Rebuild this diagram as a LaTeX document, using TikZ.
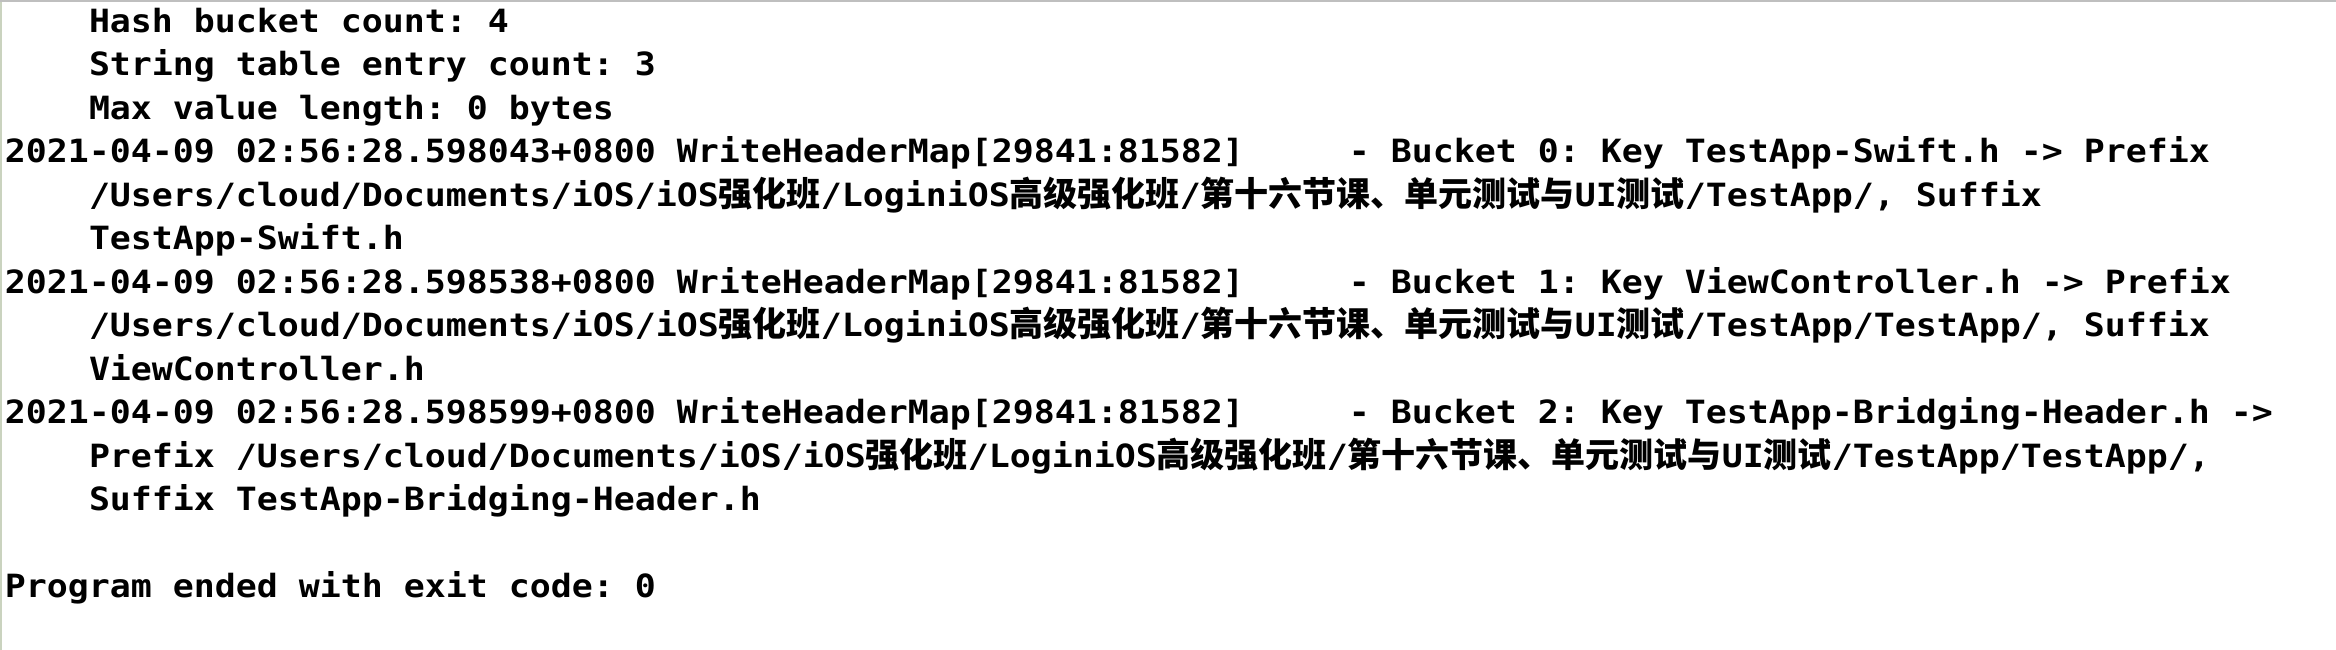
\documentclass[tikz,border=0pt]{standalone}
\usepackage{fontspec}
\newfontfamily\monof[FakeStretch=1.09]{DejaVu Sans Mono}
\newfontfamily\cjkf[Scale=1.0625]{Noto Sans CJK SC}
\newcommand\zh[1]{{\cjkf\bfseries #1}}
\definecolor{topbar}{HTML}{BFBFBF}
\definecolor{leftbar}{HTML}{CAD3BF}
\tikzset{
  ln/.style={anchor=base west, inner sep=0pt, outer sep=0pt, text=black,
    font={\monof\fontsize{32pt}{43pt}\selectfont\bfseries\frenchspacing}},
}
\begin{document}
\begin{tikzpicture}[x=1pt,y=-1pt]
\useasboundingbox (0,0) rectangle (2336,650);
\fill[white] (0,0) rectangle (2336,650);
\fill[topbar] (0,0) rectangle (2336,2);
\fill[leftbar] (0,2) rectangle (2.3,650);
\node[ln] (l1) at (89,32.5) {Hash bucket count: 4};
\node[ln] (l2) at (89,75.95) {String table entry count: 3};
\node[ln] (l3) at (89,119.4) {Max value length: 0 bytes};
\node[ln] (l4) at (5,162.85) {2021-04-09 02:56:28.598043+0800 WriteHeaderMap[29841:81582]~~~~~- Bucket 0: Key TestApp-Swift.h -> Prefix};
\node[ln] (l5) at (89,206.3) {/Users/cloud/Documents/iOS/iOS\zh{强化班}/LoginiOS\zh{高级强化班}/\zh{第十六节课、单元测试与}UI\zh{测试}/TestApp/, Suffix};
\node[ln] (l6) at (89,249.75) {TestApp-Swift.h};
\node[ln] (l7) at (5,293.2) {2021-04-09 02:56:28.598538+0800 WriteHeaderMap[29841:81582]~~~~~- Bucket 1: Key ViewController.h -> Prefix};
\node[ln] (l8) at (89,336.65) {/Users/cloud/Documents/iOS/iOS\zh{强化班}/LoginiOS\zh{高级强化班}/\zh{第十六节课、单元测试与}UI\zh{测试}/TestApp/TestApp/, Suffix};
\node[ln] (l9) at (89,380.1) {ViewController.h};
\node[ln] (l10) at (5,423.55) {2021-04-09 02:56:28.598599+0800 WriteHeaderMap[29841:81582]~~~~~- Bucket 2: Key TestApp-Bridging-Header.h ->};
\node[ln] (l11) at (89,467.0) {Prefix /Users/cloud/Documents/iOS/iOS\zh{强化班}/LoginiOS\zh{高级强化班}/\zh{第十六节课、单元测试与}UI\zh{测试}/TestApp/TestApp/,};
\node[ln] (l12) at (89,510.45) {Suffix TestApp-Bridging-Header.h};
\node[ln] (l14) at (5,597.35) {Program ended with exit code: 0};
\end{tikzpicture}
\end{document}
